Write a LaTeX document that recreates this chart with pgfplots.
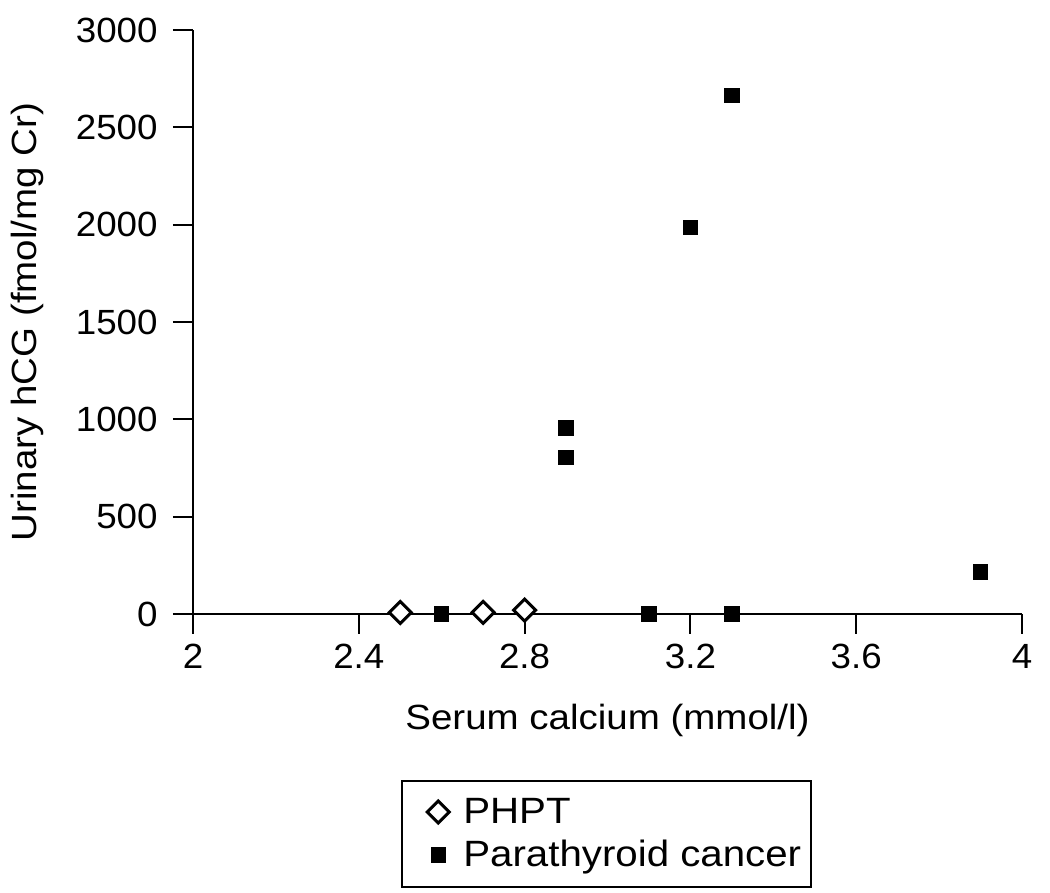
\documentclass[border=0pt]{standalone}
\usepackage{fontspec}
\setmainfont[FakeStretch=1.1]{Liberation Sans}
\newfontfamily\tickfont[FakeStretch=1.05]{Liberation Sans}
\usepackage{pgfplots}
\pgfplotsset{compat=1.18}
\begin{document}
\begin{tikzpicture}
\path (-96.5pt,-139.5pt) rectangle (428.5pt,307pt);
\begin{axis}[
  at={(0pt,0pt)}, anchor=south west,
  set layers,
  scale only axis, width=414.5pt, height=292pt,
  xmin=2, xmax=4, ymin=0, ymax=3000,
  axis lines=left, axis line style={-, line width=1pt, black},
  xtick={2,2.4,2.8,3.2,3.6,4}, xticklabels={2,2.4,2.8,3.2,3.6,4},
  ytick={0,500,1000,1500,2000,2500,3000}, yticklabels={0,500,1000,1500,2000,2500,3000},
  tick align=outside, major tick length=10pt, tick style={line width=1pt, black},
  xticklabel style={font=\tickfont\fontsize{17.5}{20}\selectfont, inner sep=0pt, anchor=north, yshift=-5pt},
  yticklabel style={font=\tickfont\fontsize{17.5}{20}\selectfont, inner sep=0pt, anchor=east, xshift=-7.5pt},
  xlabel={Serum calcium (mmol/l)},
  ylabel={Urinary hCG (fmol/mg Cr)},
  xlabel style={font=\fontsize{17.5}{20}\selectfont, at={(axis description cs:0.5,-0.1986)}, anchor=base, inner sep=0pt},
  ylabel style={font=\fontsize{17.5}{20}\selectfont, at={(axis description cs:-0.1882,0.5)}, anchor=base, inner sep=0pt},
  clip=false,
  legend style={at={(axis description cs:0.4988,-0.2842)}, anchor=north, draw=black, line width=1pt,
    font=\fontsize{18.3}{21}\selectfont, inner xsep=3pt, inner ysep=6.5pt, row sep=3pt, column sep=5pt},
  legend image code/.code={\path (-14.75pt,0pt); \draw[#1] plot coordinates {(0pt,0pt)};},
  legend cell align=left,
]
\addplot[only marks, mark=square*, mark size=3.9pt,
  mark options={rotate=45, fill=white, draw=black, line width=1.5pt}]
  coordinates {(2.5,8) (2.7,8) (2.8,20)};
\addlegendentry{PHPT}
\addplot[only marks, mark=square*, mark size=3.6pt,
  mark options={fill=black, draw=black, line width=0.5pt}]
  coordinates {(2.6,0) (2.9,955) (2.9,805) (3.1,0) (3.2,1985) (3.3,2665) (3.3,0) (3.9,215)};
\addlegendentry{Parathyroid cancer}
\end{axis}
\end{tikzpicture}
\end{document}
